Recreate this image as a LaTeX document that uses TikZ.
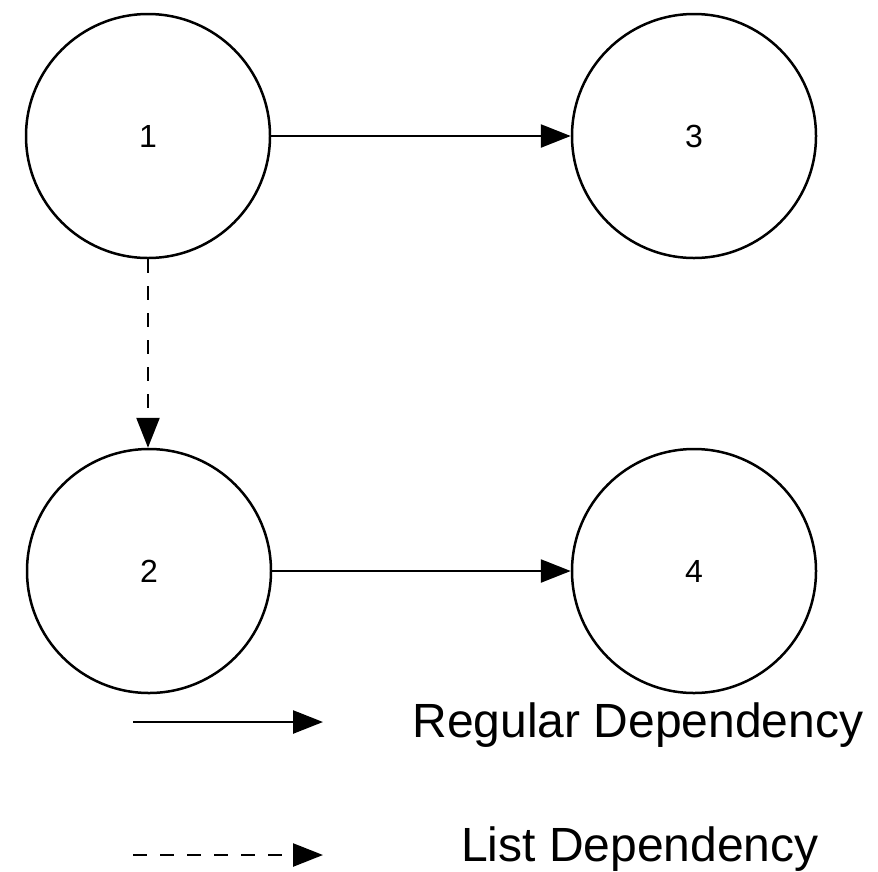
\documentclass[tikz,border=0pt]{standalone}
\usepackage{fontspec}
\setmainfont{Liberation Sans}
\usetikzlibrary{arrows.meta}
\begin{document}
\begin{tikzpicture}[x=1pt,y=-1pt,
  statenode/.style={circle,draw=black,line width=2.5pt,minimum size=244pt,inner sep=0pt,font=\fontsize{32}{36}\selectfont},
  dep/.style={line width=2.5pt,-{Triangle[length=30pt,width=23pt]}},
  listdep/.style={dep,dash pattern=on 14pt off 13pt},
  legendtext/.style={font=\fontsize{48}{54}\selectfont,inner sep=0pt,anchor=base}]
\useasboundingbox[fill=white] (0,0) rectangle (878,871);
\node[statenode] (n1) at (148,136) {1};
\node[statenode] (n3) at (694,136) {3};
\node[statenode] (n2) at (149,571) {2};
\node[statenode] (n4) at (694,571) {4};
\draw[dep] (n1) -- (n3);
\draw[dep] (n2) -- (n4);
\draw[listdep] (n1.south) -- (n1.south |- n2.north);
\coordinate (la) at (133,722);
\coordinate (lb) at (323,722);
\coordinate (lc) at (133,855);
\coordinate (ld) at (323,855);
\draw[dep] (la) -- (lb);
\draw[listdep] (lc) -- (ld);
\node[legendtext] (t1) at (638,737) {Regular Dependency};
\node[legendtext] (t2) at (640,861) {List Dependency};
\end{tikzpicture}
\end{document}
